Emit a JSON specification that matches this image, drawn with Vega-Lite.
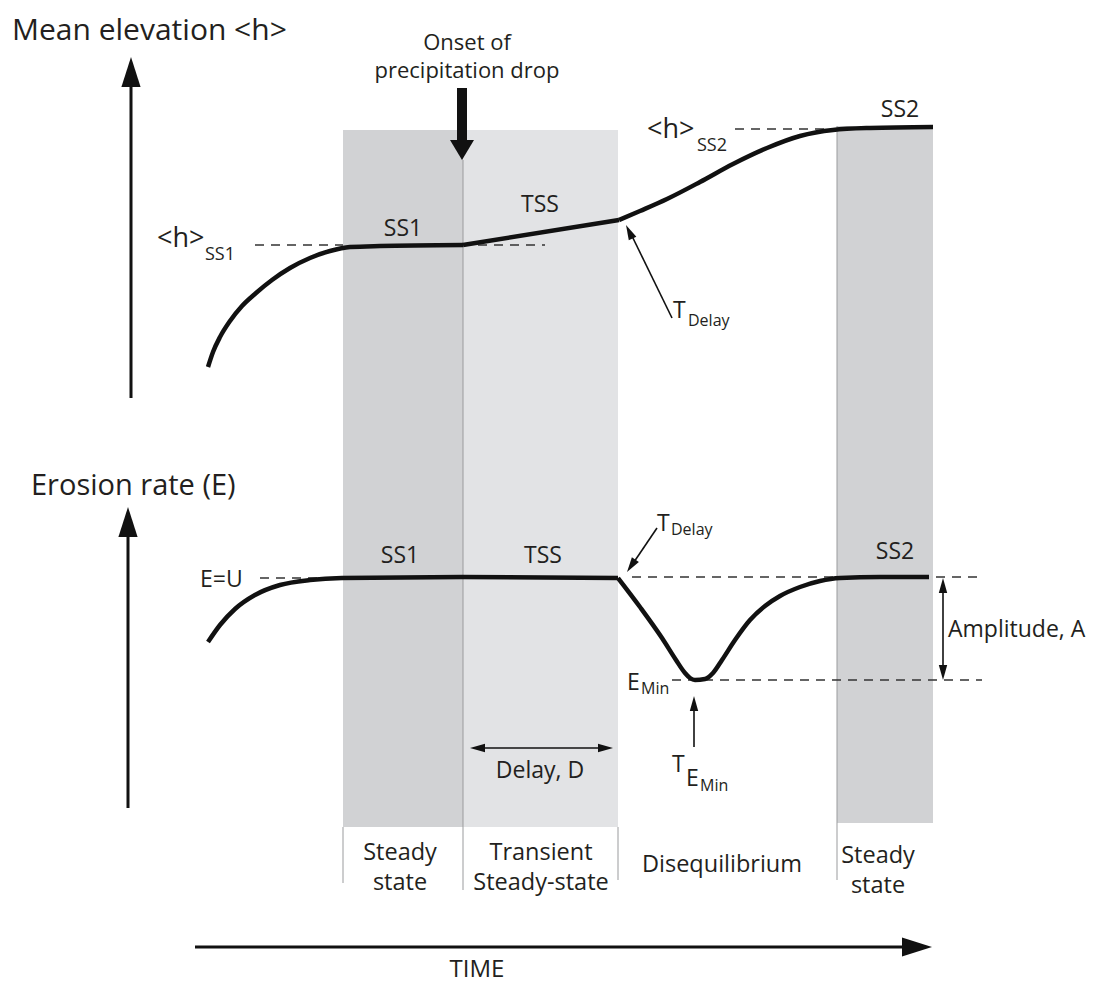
{
  "$schema": "https://vega.github.io/schema/vega-lite/v6.json",
  "width": 1097,
  "height": 983,
  "padding": 0,
  "autosize": {"type": "fit", "contains": "padding"},
  "background": "white",
  "config": {"view": {"stroke": null}, "font": "Open Sans"},
  "encoding": {
    "x": {"field": "x", "type": "quantitative", "scale": {"domain": [0, 1097], "nice": false, "zero": false}, "axis": null},
    "y": {"field": "y", "type": "quantitative", "scale": {"domain": [0, 983], "nice": false, "zero": false, "reverse": true}, "axis": null}
  },
  "layer": [
    {
      "data": {"values": [
        {"x": 343, "x2": 463, "y": 130, "y2": 827, "zone": "steady"},
        {"x": 463, "x2": 618, "y": 130, "y2": 827, "zone": "transient"},
        {"x": 837, "x2": 933, "y": 126, "y2": 823, "zone": "steady"}
      ]},
      "mark": {"type": "rect"},
      "encoding": {
        "x2": {"field": "x2"},
        "y2": {"field": "y2"},
        "color": {"field": "zone", "type": "nominal", "scale": {"domain": ["steady", "transient"], "range": ["#d1d2d4", "#e2e3e5"]}, "legend": null}
      }
    },
    {
      "data": {"values": [
        {"x": 463, "y": 160, "x2": 463, "y2": 890},
        {"x": 618, "y": 827, "x2": 618, "y2": 880},
        {"x": 837, "y": 126, "x2": 837, "y2": 880},
        {"x": 343, "y": 827, "x2": 343, "y2": 883}
      ]},
      "mark": {"type": "rule", "color": "#9a9b9d", "strokeWidth": 1},
      "encoding": {"x2": {"field": "x2"}, "y2": {"field": "y2"}}
    },
    {
      "data": {"values": [
        {"x": 255, "y": 245, "x2": 343, "y2": 245},
        {"x": 478, "y": 245, "x2": 545, "y2": 245},
        {"x": 735, "y": 129, "x2": 840, "y2": 129},
        {"x": 260, "y": 578, "x2": 340, "y2": 578},
        {"x": 632, "y": 577, "x2": 982, "y2": 577},
        {"x": 672, "y": 680, "x2": 982, "y2": 680}
      ]},
      "mark": {"type": "rule", "color": "#333333", "strokeWidth": 1.3, "strokeDash": [9, 7]},
      "encoding": {"x2": {"field": "x2"}, "y2": {"field": "y2"}}
    },
    {
      "data": {"values": [
        {"seg": "h1", "x": 208, "y": 367},
        {"seg": "h1", "x": 213, "y": 352},
        {"seg": "h1", "x": 220, "y": 337},
        {"seg": "h1", "x": 230, "y": 321},
        {"seg": "h1", "x": 242, "y": 306},
        {"seg": "h1", "x": 256, "y": 293},
        {"seg": "h1", "x": 272, "y": 280},
        {"seg": "h1", "x": 290, "y": 268},
        {"seg": "h1", "x": 310, "y": 258},
        {"seg": "h1", "x": 330, "y": 251},
        {"seg": "h1", "x": 350, "y": 247},
        {"seg": "h1", "x": 380, "y": 246},
        {"seg": "h1", "x": 463, "y": 245},
        {"seg": "h2", "x": 463, "y": 245},
        {"seg": "h2", "x": 619, "y": 220},
        {"seg": "h3", "x": 619, "y": 220},
        {"seg": "h3", "x": 640, "y": 211},
        {"seg": "h3", "x": 667, "y": 199},
        {"seg": "h3", "x": 700, "y": 182},
        {"seg": "h3", "x": 733, "y": 164},
        {"seg": "h3", "x": 767, "y": 148},
        {"seg": "h3", "x": 800, "y": 136},
        {"seg": "h3", "x": 833, "y": 130},
        {"seg": "h3", "x": 870, "y": 128},
        {"seg": "h3", "x": 933, "y": 127},
        {"seg": "e1", "x": 208, "y": 642},
        {"seg": "e1", "x": 220, "y": 625},
        {"seg": "e1", "x": 235, "y": 609},
        {"seg": "e1", "x": 255, "y": 595},
        {"seg": "e1", "x": 280, "y": 585},
        {"seg": "e1", "x": 310, "y": 580},
        {"seg": "e1", "x": 342, "y": 578},
        {"seg": "e1", "x": 462, "y": 577},
        {"seg": "e1", "x": 618, "y": 578},
        {"seg": "e2", "x": 618, "y": 578},
        {"seg": "e2", "x": 640, "y": 607},
        {"seg": "e2", "x": 662, "y": 638},
        {"seg": "e2", "x": 676, "y": 660},
        {"seg": "e2", "x": 685, "y": 673},
        {"seg": "e2", "x": 690, "y": 678},
        {"seg": "e2", "x": 695, "y": 680},
        {"seg": "e2", "x": 705, "y": 679},
        {"seg": "e2", "x": 713, "y": 673},
        {"seg": "e2", "x": 722, "y": 660},
        {"seg": "e2", "x": 735, "y": 640},
        {"seg": "e2", "x": 750, "y": 620},
        {"seg": "e2", "x": 765, "y": 606},
        {"seg": "e2", "x": 780, "y": 596},
        {"seg": "e2", "x": 800, "y": 587},
        {"seg": "e2", "x": 820, "y": 581},
        {"seg": "e2", "x": 840, "y": 578},
        {"seg": "e2", "x": 880, "y": 577},
        {"seg": "e2", "x": 929, "y": 577}
      ]},
      "mark": {"type": "line", "color": "#111111", "strokeWidth": 4.5, "interpolate": "monotone", "strokeCap": "butt"},
      "encoding": {"detail": {"field": "seg", "type": "nominal"}}
    },
    {
      "data": {"values": [
        {"x": 131, "y": 398, "x2": 131, "y2": 80},
        {"x": 128, "y": 808, "x2": 128, "y2": 525},
        {"x": 195, "y": 947, "x2": 910, "y2": 947}
      ]},
      "mark": {"type": "rule", "color": "#111111", "strokeWidth": 3},
      "encoding": {"x2": {"field": "x2"}, "y2": {"field": "y2"}}
    },
    {
      "data": {"values": [
        {"x": 672, "y": 318, "x2": 631, "y2": 234},
        {"x": 657, "y": 528, "x2": 634, "y2": 562},
        {"x": 694, "y": 747, "x2": 694, "y2": 705},
        {"x": 480, "y": 748, "x2": 603, "y2": 748},
        {"x": 943, "y": 587, "x2": 943, "y2": 671}
      ]},
      "mark": {"type": "rule", "color": "#111111", "strokeWidth": 1.6},
      "encoding": {"x2": {"field": "x2"}, "y2": {"field": "y2"}}
    },
    {
      "data": {"values": [
        {"x": 462, "y": 88, "x2": 462, "y2": 142}
      ]},
      "mark": {"type": "rule", "color": "#111111", "strokeWidth": 10},
      "encoding": {"x2": {"field": "x2"}, "y2": {"field": "y2"}}
    },
    {
      "data": {"values": [
        {"x": 131, "y": 57, "dir": 0},
        {"x": 128, "y": 507, "dir": 0},
        {"x": 932, "y": 947, "dir": 90}
      ]},
      "mark": {"type": "point", "shape": "M0,0L-0.32,1L0.32,1Z", "filled": true, "color": "#111111", "opacity": 1, "size": 3600, "strokeWidth": 0},
      "encoding": {"angle": {"field": "dir", "type": "quantitative", "scale": null}}
    },
    {
      "data": {"values": [
        {"x": 626, "y": 225, "dir": 334},
        {"x": 627, "y": 572, "dir": 214},
        {"x": 694, "y": 696, "dir": 0},
        {"x": 470, "y": 748, "dir": 270},
        {"x": 613, "y": 748, "dir": 90},
        {"x": 943, "y": 578, "dir": 0},
        {"x": 943, "y": 680, "dir": 180}
      ]},
      "mark": {"type": "point", "shape": "M0,0L-0.28,1L0.28,1Z", "filled": true, "color": "#111111", "opacity": 1, "size": 900, "strokeWidth": 0},
      "encoding": {"angle": {"field": "dir", "type": "quantitative", "scale": null}}
    },
    {
      "data": {"values": [
        {"x": 462, "y": 160, "dir": 180}
      ]},
      "mark": {"type": "point", "shape": "M0,0L-0.6,1L0.6,1Z", "filled": true, "color": "#111111", "opacity": 1, "size": 1600, "strokeWidth": 0},
      "encoding": {"angle": {"field": "dir", "type": "quantitative", "scale": null}}
    },
    {
      "data": {"values": [
        {"x": 12, "y": 40, "label": "Mean elevation <h>"}
      ]},
      "mark": {"type": "text", "align": "left", "baseline": "alphabetic", "fontSize": 30, "color": "#231f20"},
      "encoding": {"text": {"field": "label"}}
    },
    {
      "data": {"values": [
        {"x": 31, "y": 495, "label": "Erosion rate (E)"}
      ]},
      "mark": {"type": "text", "align": "left", "baseline": "alphabetic", "fontSize": 29, "color": "#231f20"},
      "encoding": {"text": {"field": "label"}}
    },
    {
      "data": {"values": [
        {"x": 467, "y": 50, "label": ["Onset of", "precipitation drop"]}
      ]},
      "mark": {"type": "text", "align": "center", "baseline": "alphabetic", "fontSize": 22, "lineHeight": 28, "color": "#231f20"},
      "encoding": {"text": {"field": "label"}}
    },
    {
      "data": {"values": [
        {"x": 403, "y": 236, "label": "SS1"},
        {"x": 540, "y": 212, "label": "TSS"},
        {"x": 900, "y": 117, "label": "SS2"},
        {"x": 400, "y": 563, "label": "SS1"},
        {"x": 543, "y": 563, "label": "TSS"},
        {"x": 895, "y": 559, "label": "SS2"},
        {"x": 540, "y": 778, "label": "Delay, D"}
      ]},
      "mark": {"type": "text", "align": "center", "baseline": "alphabetic", "fontSize": 23, "color": "#231f20"},
      "encoding": {"text": {"field": "label"}}
    },
    {
      "data": {"values": [
        {"x": 157, "y": 247, "label": "<h>"},
        {"x": 647, "y": 138, "label": "<h>"}
      ]},
      "mark": {"type": "text", "align": "left", "baseline": "alphabetic", "fontSize": 27, "color": "#231f20"},
      "encoding": {"text": {"field": "label"}}
    },
    {
      "data": {"values": [
        {"x": 200, "y": 587, "label": "E=U"},
        {"x": 673, "y": 318, "label": "T"},
        {"x": 657, "y": 531, "label": "T"},
        {"x": 627, "y": 690, "label": "E"},
        {"x": 672, "y": 772, "label": "T"},
        {"x": 686, "y": 786, "label": "E"},
        {"x": 948, "y": 637, "label": "Amplitude, A"}
      ]},
      "mark": {"type": "text", "align": "left", "baseline": "alphabetic", "fontSize": 23, "color": "#231f20"},
      "encoding": {"text": {"field": "label"}}
    },
    {
      "data": {"values": [
        {"x": 205, "y": 260, "label": "SS1"},
        {"x": 697, "y": 151, "label": "SS2"}
      ]},
      "mark": {"type": "text", "align": "left", "baseline": "alphabetic", "fontSize": 18, "color": "#231f20"},
      "encoding": {"text": {"field": "label"}}
    },
    {
      "data": {"values": [
        {"x": 688, "y": 326, "label": "Delay"},
        {"x": 671, "y": 535, "label": "Delay"},
        {"x": 641, "y": 694, "label": "Min"},
        {"x": 700, "y": 791, "label": "Min"}
      ]},
      "mark": {"type": "text", "align": "left", "baseline": "alphabetic", "fontSize": 16, "color": "#231f20"},
      "encoding": {"text": {"field": "label"}}
    },
    {
      "data": {"values": [
        {"x": 400, "y": 860, "label": ["Steady", "state"]},
        {"x": 541, "y": 860, "label": ["Transient", "Steady-state"]},
        {"x": 722, "y": 872, "label": ["Disequilibrium"]},
        {"x": 878, "y": 863, "label": ["Steady", "state"]}
      ]},
      "mark": {"type": "text", "align": "center", "baseline": "alphabetic", "fontSize": 23.5, "lineHeight": 30, "color": "#231f20"},
      "encoding": {"text": {"field": "label"}}
    },
    {
      "data": {"values": [
        {"x": 477, "y": 977, "label": "TIME"}
      ]},
      "mark": {"type": "text", "align": "center", "baseline": "alphabetic", "fontSize": 24, "color": "#231f20"},
      "encoding": {"text": {"field": "label"}}
    }
  ]
}
